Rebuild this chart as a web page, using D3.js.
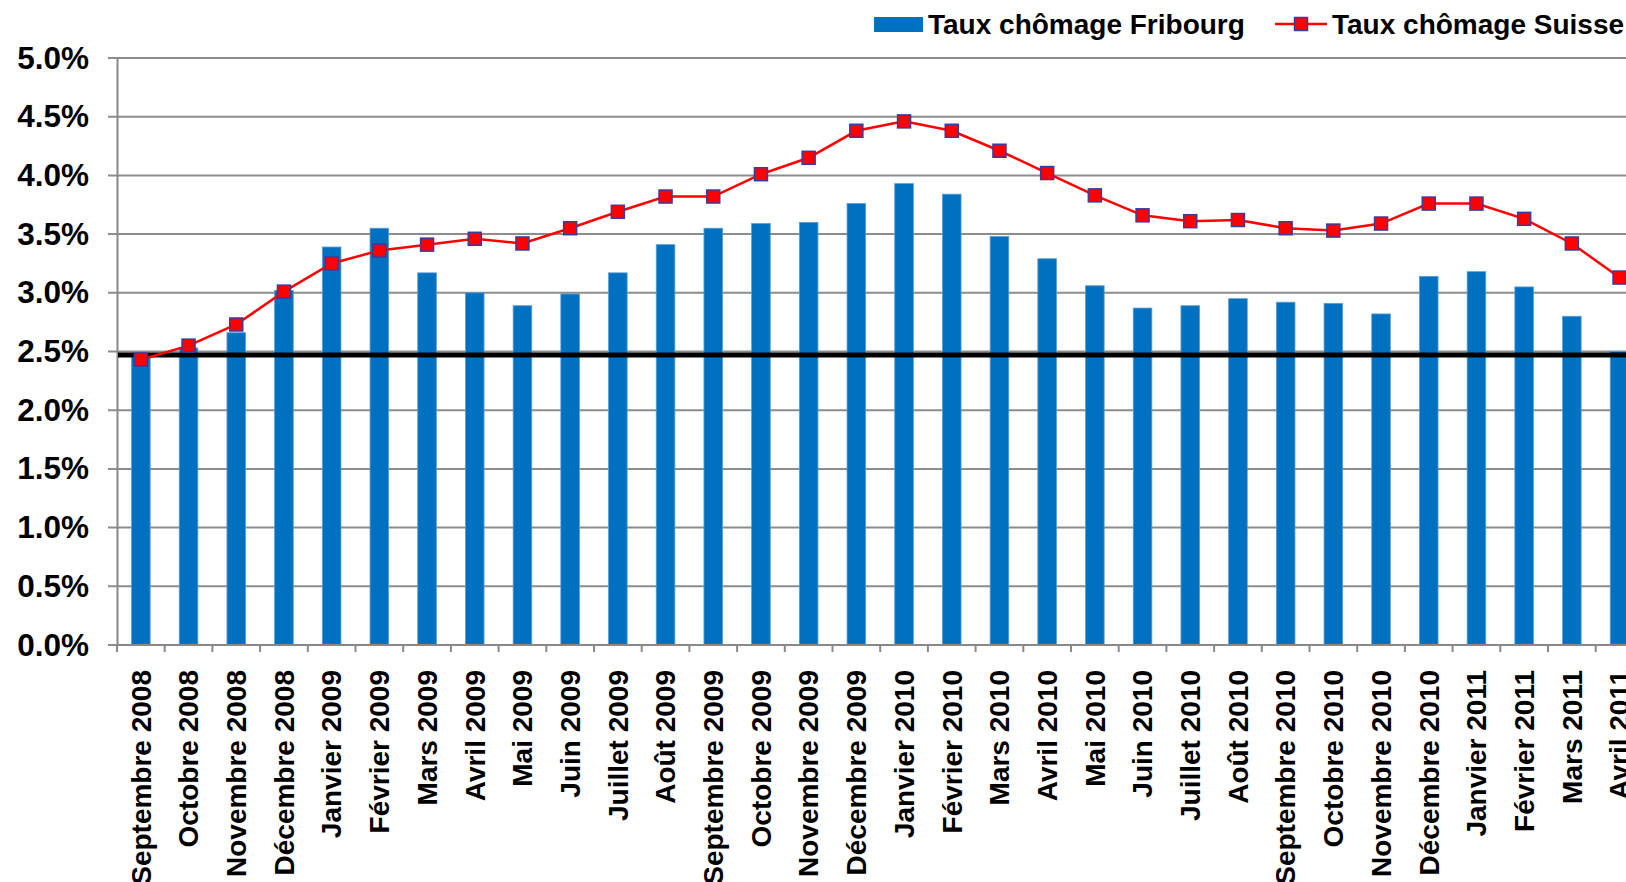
<!DOCTYPE html>
<html lang="fr">
<head>
    <meta charset="UTF-8">
    <title>Taux de chômage Fribourg / Suisse</title>
    <script src="https://d3js.org/d3.v7.min.js"></script>
    <style>
        body {
            margin: 0;
            background: #fff;
            overflow: hidden;
        }
        text {
            font-family: "Liberation Sans", Arial, sans-serif;
            font-weight: bold;
            fill: #000;
        }
    </style>
</head>
<body>
    <div id="chart"></div>

    <script>
        // données (en %)
        const months = [
            "Septembre 2008", "Octobre 2008", "Novembre 2008", "Décembre 2008",
            "Janvier 2009", "Février 2009", "Mars 2009", "Avril 2009", "Mai 2009", "Juin 2009",
            "Juillet 2009", "Août 2009", "Septembre 2009", "Octobre 2009", "Novembre 2009", "Décembre 2009",
            "Janvier 2010", "Février 2010", "Mars 2010", "Avril 2010", "Mai 2010", "Juin 2010",
            "Juillet 2010", "Août 2010", "Septembre 2010", "Octobre 2010", "Novembre 2010", "Décembre 2010",
            "Janvier 2011", "Février 2011", "Mars 2011", "Avril 2011"
        ];
        const fribourg = [
            2.45, 2.53, 2.66, 3.02, 3.39, 3.55, 3.17, 3.00, 2.89, 2.99,
            3.17, 3.41, 3.55, 3.59, 3.60, 3.76, 3.93, 3.84, 3.48, 3.29,
            3.06, 2.87, 2.89, 2.95, 2.92, 2.91, 2.82, 3.14, 3.18, 3.05,
            2.80, 2.50
        ];
        const suisse = [
            2.43, 2.55, 2.73, 3.01, 3.25, 3.36, 3.41, 3.46, 3.42, 3.55,
            3.69, 3.82, 3.82, 4.01, 4.15, 4.38, 4.46, 4.38, 4.21, 4.02,
            3.83, 3.66, 3.61, 3.62, 3.55, 3.53, 3.59, 3.76, 3.76, 3.63,
            3.42, 3.13
        ];
        const yTicks = [0, 0.5, 1.0, 1.5, 2.0, 2.5, 3.0, 3.5, 4.0, 4.5, 5.0];
        const seuil = 2.47;
        const legendNames = ["Taux chômage Fribourg", "Taux chômage Suisse"];

        const width = 1626, height = 882;
        const left = 117, bandW = 47.7;

        const svg = d3.select("#chart").append("svg")
            .attr("width", width)
            .attr("height", height);

        // l'axe continue au-delà de la fenêtre (dernier mois coupé)
        const x = d3.scaleBand()
            .domain(months)
            .range([left, left + months.length * bandW])
            .padding(0);

        const y = d3.scaleLinear()
            .domain([0, 5])
            .range([645, 58]);

        // grille horizontale
        svg.append("g")
            .selectAll("line")
            .data(yTicks)
            .enter().append("line")
            .attr("x1", left - 9)
            .attr("x2", width)
            .attr("y1", d => y(d))
            .attr("y2", d => y(d))
            .attr("stroke", "#8c8c8c")
            .attr("stroke-width", 2);

        // axe Y
        svg.append("g")
            .attr("transform", `translate(${left},0)`)
            .call(d3.axisLeft(y).tickValues(yTicks).tickSize(0).tickPadding(28)
                .tickFormat(d => d.toFixed(1) + "%"))
            .call(g => g.select(".domain").attr("stroke", "#888").attr("stroke-width", 2))
            .selectAll("text")
            .style("font-size", "31.5px");

        // barres Fribourg
        const barW = bandW * 0.39;
        svg.append("g")
            .selectAll("rect")
            .data(months)
            .enter().append("rect")
            .attr("x", d => x(d) + (x.bandwidth() - barW) / 2)
            .attr("y", (d, i) => y(fribourg[i]))
            .attr("width", barW)
            .attr("height", (d, i) => y(0) - y(fribourg[i]))
            .attr("fill", "#0070c0")
            .attr("stroke", "#5b9bd5")
            .attr("stroke-width", 0.8);

        // axe X
        svg.append("line")
            .attr("x1", left)
            .attr("x2", width)
            .attr("y1", y(0))
            .attr("y2", y(0))
            .attr("stroke", "#888")
            .attr("stroke-width", 2);

        svg.append("g")
            .selectAll("line")
            .data(months)
            .enter().append("line")
            .attr("x1", d => x(d))
            .attr("x2", d => x(d))
            .attr("y1", y(0))
            .attr("y2", y(0) + 7)
            .attr("stroke", "#888")
            .attr("stroke-width", 2);

        svg.append("g")
            .attr("transform", `translate(0,${y(0)})`)
            .call(d3.axisBottom(x).tickSize(0).tickPadding(0))
            .call(g => g.select(".domain").remove())
            .selectAll("text")
            .style("font-size", "28px")
            .attr("text-anchor", "end")
            .attr("transform", "rotate(-90)")
            .attr("x", -25)
            .attr("y", 0)
            .attr("dy", "0.35em");

        // ligne de référence
        svg.append("line")
            .attr("x1", left + 1)
            .attr("x2", width)
            .attr("y1", y(seuil))
            .attr("y2", y(seuil))
            .attr("stroke", "#000")
            .attr("stroke-width", 5);

        // courbe Suisse
        const line = d3.line()
            .x((d, i) => x(months[i]) + x.bandwidth() / 2)
            .y(d => y(d));

        svg.append("path")
            .datum(suisse)
            .attr("fill", "none")
            .attr("stroke", "#ff0000")
            .attr("stroke-width", 2.5)
            .attr("d", line);

        const mk = 13;
        svg.append("g")
            .selectAll("rect")
            .data(suisse)
            .enter().append("rect")
            .attr("x", (d, i) => x(months[i]) + x.bandwidth() / 2 - mk / 2)
            .attr("y", d => y(d) - mk / 2)
            .attr("width", mk)
            .attr("height", mk)
            .attr("fill", "#ff0000")
            .attr("stroke", "#3b3b9a")
            .attr("stroke-width", 1.5);

        // légende
        const legend = svg.append("g");
        legend.append("rect")
            .attr("x", 874)
            .attr("y", 17)
            .attr("width", 49)
            .attr("height", 15)
            .attr("fill", "#0070c0");
        legend.append("text")
            .attr("x", 928)
            .attr("y", 34)
            .style("font-size", "28px")
            .text(legendNames[0]);

        legend.append("line")
            .attr("x1", 1275)
            .attr("x2", 1327)
            .attr("y1", 24)
            .attr("y2", 24)
            .attr("stroke", "#ff0000")
            .attr("stroke-width", 2.5);
        legend.append("rect")
            .attr("x", 1301 - mk / 2)
            .attr("y", 24 - mk / 2)
            .attr("width", mk)
            .attr("height", mk)
            .attr("fill", "#ff0000")
            .attr("stroke", "#3b3b9a")
            .attr("stroke-width", 1.5);
        legend.append("text")
            .attr("x", 1332)
            .attr("y", 34)
            .style("font-size", "28px")
            .text(legendNames[1]);
    </script>
</body>
</html>
